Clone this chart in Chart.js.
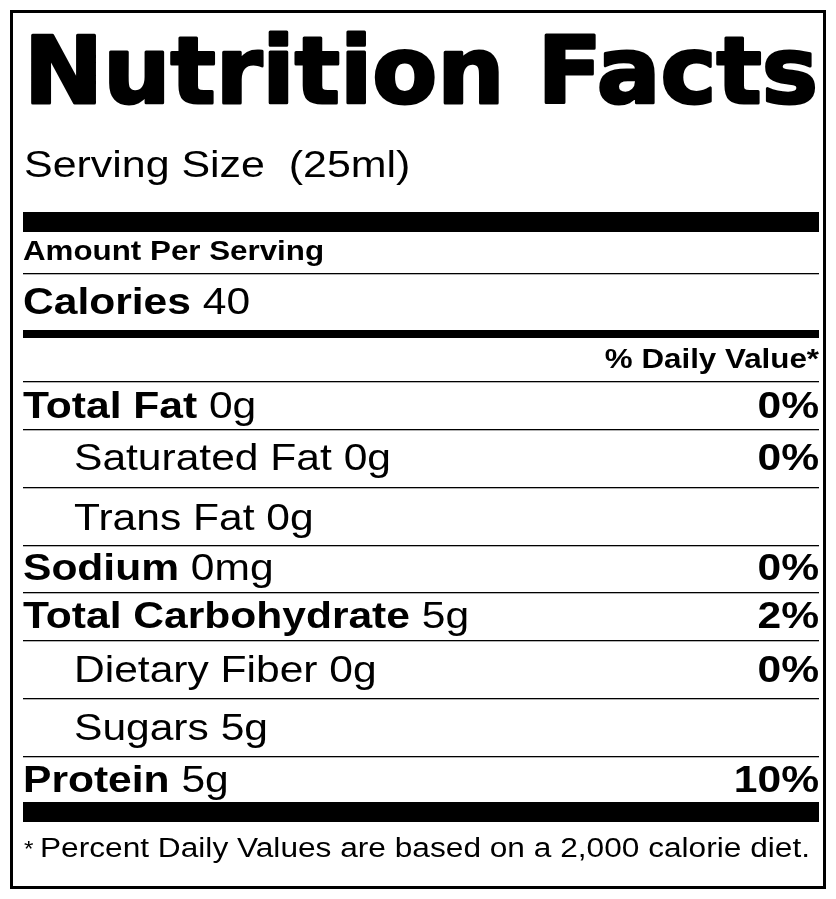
<!DOCTYPE html>
<html><head><meta charset="utf-8">
<script src="https://cdn.jsdelivr.net/npm/chart.js@4/dist/chart.umd.min.js"></script>
<style>html,body{margin:0;padding:0;background:#fff}canvas{display:block}</style>
</head><body>
<canvas id="c" width="836" height="899"></canvas>
<script>
const title = "Nutrition Facts";
const servingSize = "Serving Size  (25ml)";
const calories = "40";
const nutrients = ["Total Fat", "Saturated Fat", "Trans Fat", "Sodium", "Total Carbohydrate", "Dietary Fiber", "Sugars", "Protein"];
const amounts = ["0g", "0g", "0g", "0mg", "5g", "0g", "5g", "5g"];
const dailyValues = ["0%", "0%", "", "0%", "2%", "0%", "", "10%"];
const isSub = [false, true, true, false, false, true, true, false];
const footnote = "Percent Daily Values are based on a 2,000 calorie diet.";

const rowBase = [418, 470, 530, 580, 628, 682, 740, 792];
const rowLine = [429, 487, 545, 592, 640, 698, 756, null];
const F = '"Liberation Sans", Arial, sans-serif';

const labelPlugin = {
  id: 'label',
  afterDraw(chart) {
    const ctx = chart.ctx;
    ctx.save();
    ctx.fillStyle = '#fff'; ctx.fillRect(0, 0, 836, 899);
    ctx.strokeStyle = '#000'; ctx.lineWidth = 3;
    ctx.strokeRect(11.5, 11.5, 813, 876);
    ctx.fillStyle = '#000';
    const L = 23, R = 819;
    ctx.textBaseline = 'alphabetic';
    // draw text with horizontal stretch; align 'left' or 'right'; returns width
    const txt = (s, x, y, font, sx, align) => {
      ctx.font = font;
      const w = ctx.measureText(s).width * sx;
      ctx.save();
      ctx.translate(align === 'right' ? x - w : x, y);
      ctx.scale(sx, 1);
      ctx.fillText(s, 0, 0);
      ctx.restore();
      return w;
    };
    // title stretched
    ctx.font = 'bold 93px "DejaVu Sans", sans-serif';
    const w = ctx.measureText(title).width;
    ctx.save(); ctx.translate(L + 1, 103); ctx.scale((R - L - 2) / w, 1);
    ctx.lineWidth = 3; ctx.lineJoin = 'round';
    ctx.fillText(title, 0, 0); ctx.strokeText(title, 0, 0); ctx.restore();
    const SX = 1.15;
    txt(servingSize, L + 1, 177, '37px ' + F, 1.16);
    ctx.fillRect(L, 212, R - L, 20);
    txt("Amount Per Serving", L, 260, 'bold 27px ' + F, 1.16);
    const hl = (y) => ctx.fillRect(L, y, R - L, 1.3);
    hl(273);
    let cw = txt("Calories ", L, 314, 'bold 37px ' + F, SX);
    txt(calories, L + cw, 314, '37px ' + F, SX);
    ctx.fillRect(L, 330, R - L, 8);
    txt("% Daily Value*", R, 368, 'bold 27px ' + F, 1.16, 'right');
    hl(381);
    nutrients.forEach((n, i) => {
      const x = isSub[i] ? 74 : L, y = rowBase[i];
      const nw = txt(n + ' ', x, y, (isSub[i] ? '' : 'bold ') + '37px ' + F, SX);
      txt(amounts[i], x + nw, y, '37px ' + F, SX);
      if (dailyValues[i]) txt(dailyValues[i], R, y, 'bold 37px ' + F, SX, 'right');
      if (rowLine[i]) hl(rowLine[i]);
    });
    ctx.fillRect(L, 802, R - L, 20);
    txt("*", L + 1, 856, '22px ' + F, 1.1);
    ctx.font = '27px ' + F;
    const fw = ctx.measureText(footnote).width;
    txt(footnote, 40, 857, '27px ' + F, (810 - 40) / fw);
    ctx.restore();
  }
};

new Chart(document.getElementById('c'), {
  type: 'bar',
  data: { labels: nutrients, datasets: [{ data: [], backgroundColor: '#000' }] },
  options: {
    responsive: false, animation: false,
    plugins: { legend: { display: false }, tooltip: { enabled: false } },
    scales: { x: { display: false }, y: { display: false } }
  },
  plugins: [labelPlugin]
});
</script>
</body></html>
